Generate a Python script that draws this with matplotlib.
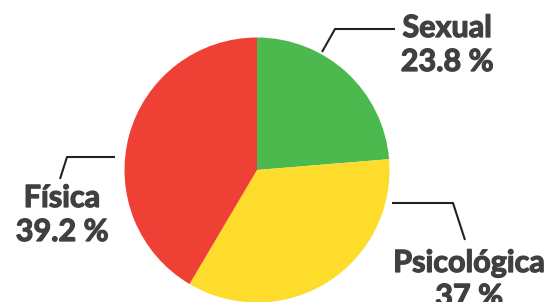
import matplotlib
matplotlib.use('Agg')
import matplotlib.pyplot as plt
import matplotlib.patheffects as pe

# slice shares as drawn in the picture, and the labels printed next to them
categories = ['Sexual', 'Psicológica', 'Física']
shares = [23.7, 34.8, 41.5]
pct_labels = ['23.8 %', '37 %', '39.2 %']
colors = ['#4cb94f', '#fddc2b', '#ef4036']

W, H = 552, 302
fig = plt.figure(figsize=(W / 100, H / 100), dpi=100)
ax = fig.add_axes([0, 0, 1, 1])

# pixel coords from top-left -> data coords
def py(y):
    return H - y

ax.pie(shares, colors=colors, startangle=90, counterclock=False,
       center=(257, py(170)), radius=132.5, frame=True,
       wedgeprops=dict(linewidth=0))
ax.set_xlim(0, W)
ax.set_ylim(0, H)
ax.set_aspect('equal')
ax.axis('off')

txt_color = '#404040'
# Lato Black isn't around, so thicken the bold face a little
font = dict(family=['Lato', 'DejaVu Sans'], fontweight='bold', fontsize=22,
            color=txt_color, ha='center', va='baseline',
            path_effects=[pe.withStroke(linewidth=0.9, foreground=txt_color)])

# label positions: (x center, baseline of first line), leader polyline
label_pos = {
    'Sexual': (447, 37, [(322, 52), (335, 29), (395, 29)]),
    'Psicológica': (469, 272, [(392, 203), (453, 203), (465, 240)]),
    'Física': (62, 207, [(115, 157), (67, 157), (60, 179)]),
}

for name, pct in zip(categories, pct_labels):
    x, y, line = label_pos[name]
    ax.text(x, py(y), name, **font)
    ax.text(x, py(y + 34), pct, **font)
    xs = [p[0] for p in line]
    ys = [py(p[1]) for p in line]
    ax.plot(xs, ys, color='#222222', linewidth=1.5, solid_capstyle='butt')

fig.savefig('out.png', dpi=100)
